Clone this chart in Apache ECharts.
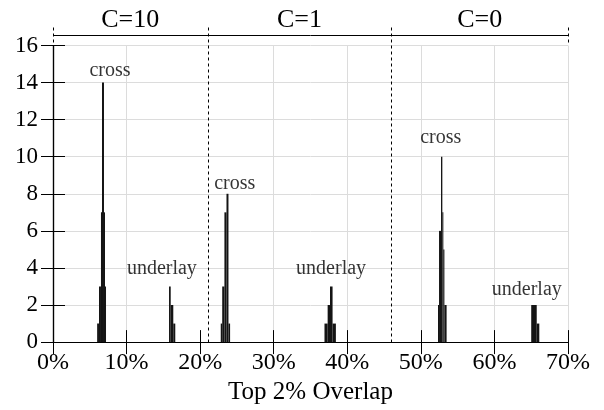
<!DOCTYPE html>
<html>
<head>
<meta charset="utf-8">
<script src="https://cdn.jsdelivr.net/npm/echarts@6/dist/echarts.min.js"></script>
<style>
  html, body { margin: 0; padding: 0; background: #fff; }
  #chart { width: 604px; height: 410px; }
</style>
</head>
<body>
<div id="chart"></div>
<script>
// Histogram bins: [bin start %, bin end %, count]
const crossC10    = [[6.00, 6.25, 1], [6.25, 6.52, 3], [6.52, 6.66, 7], [6.66, 6.93, 14], [6.93, 7.07, 7], [7.07, 7.20, 3]];
const underlayC10 = [[15.77, 16.00, 3], [16.00, 16.35, 2], [16.35, 16.62, 1]];
const crossC1     = [[22.80, 23.00, 1], [23.00, 23.30, 3], [23.30, 23.58, 7], [23.58, 23.85, 8], [23.85, 24.07, 1]];
const underlayC1  = [[36.90, 37.33, 1], [37.33, 37.65, 2], [37.65, 38.00, 3], [38.00, 38.45, 1]];
const crossC0     = [[52.33, 52.47, 2], [52.47, 52.74, 6], [52.74, 52.92, 10], [52.92, 53.05, 7], [53.05, 53.20, 5], [53.20, 53.50, 2]];
const underlayC0  = [[65.00, 65.75, 2], [65.75, 66.10, 1]];

// Group headings and the x values that bound each group
const groupNames  = ['C=10', 'C=1', 'C=0'];
const groupBounds = [0, 21, 46, 70];

// Annotation text and its anchor in data units (x %, count)
const noteText = ['cross', 'underlay', 'cross', 'underlay', 'cross', 'underlay'];
const noteX    = [7.75, 14.8, 24.7, 37.8, 52.7, 64.4];
const noteY    = [14.65, 3.95, 8.55, 3.95, 11.0, 2.85];

const xMin = 0, xMax = 70, xStep = 10;
const yMin = 0, yMax = 16, yStep = 2;
const xTitle = 'Top 2% Overlap';

const FONT = '"Liberation Serif", "DejaVu Serif", serif';
const INK = '#000';
const BAR = '#141414';

const allBins = [].concat(crossC10, underlayC10, crossC1, underlayC1, crossC0, underlayC0);

const chart = echarts.init(document.getElementById('chart'), null, { renderer: 'canvas' });

// light grid; the 20% line is left out where the first group boundary sits
const gridColors = [];
for (let v = xMin; v <= xMax; v += xStep) gridColors.push(v === 20 ? 'rgba(0,0,0,0)' : '#dcdcdc');
const xGrid = { show: true, lineStyle: { color: gridColors, width: 1 } };
const yGrid = { show: true, lineStyle: { color: '#dcdcdc', width: 1 } };
const tickIn = { show: true, inside: true, length: 12, lineStyle: { color: INK, width: 1 } };
const frameLine = { show: true, lineStyle: { color: INK, width: 1.2 } };

chart.setOption({
  animation: false,
  grid: { left: 53, right: 36, top: 45.5, bottom: 66, containLabel: false },
  xAxis: [
    {
      type: 'value', min: xMin, max: xMax, interval: xStep, position: 'bottom',
      name: xTitle, nameLocation: 'middle', nameGap: 34,
      nameTextStyle: { fontFamily: FONT, fontSize: 25, color: INK },
      axisLine: frameLine, axisTick: tickIn, splitLine: xGrid,
      axisLabel: { formatter: '{value}%', fontFamily: FONT, fontSize: 24, color: INK, margin: 9 }
    },
    {
      type: 'value', min: xMin, max: xMax, interval: xStep, position: 'top',
      axisLine: frameLine, axisTick: tickIn, splitLine: { show: false }, axisLabel: { show: false }
    }
  ],
  yAxis: [
    {
      type: 'value', min: yMin, max: yMax, interval: yStep, position: 'left',
      axisLine: frameLine, axisTick: tickIn, splitLine: yGrid,
      axisLabel: { fontFamily: FONT, fontSize: 23, color: INK, margin: 15 }
    },
    {
      type: 'value', min: yMin, max: yMax, interval: yStep, position: 'right',
      axisLine: frameLine, axisTick: tickIn, splitLine: { show: false }, axisLabel: { show: false }
    }
  ],
  series: [
    {
      type: 'custom',
      data: allBins,
      encode: { x: [0, 1], y: 2 },
      renderItem: function (params, api) {
        const base = api.coord([api.value(0), 0]);
        const top = api.coord([api.value(1), api.value(2)]);
        return {
          type: 'rect',
          shape: { x: base[0], y: top[1], width: Math.max(top[0] - base[0], 1), height: base[1] - top[1] },
          style: { fill: BAR }
        };
      },
      z: 3
    },
    {
      type: 'scatter',
      symbolSize: 0,
      data: noteText.map((t, i) => ({ name: t, value: [noteX[i], noteY[i]] })),
      label: {
        show: true, position: 'inside', formatter: '{b}',
        fontFamily: FONT, fontSize: 20, color: INK, textBorderWidth: 0
      },
      z: 4
    }
  ]
});

// Group header band above the frame, with dashed separators running down through the plot
function drawHeader() {
  const topPx = chart.convertToPixel({ yAxisIndex: 0 }, yMax);
  const botPx = chart.convertToPixel({ yAxisIndex: 0 }, yMin);
  const xs = groupBounds.map(v => chart.convertToPixel({ xAxisIndex: 0 }, v));
  const lineY = topPx - 10;
  const dashTop = topPx - 18;
  const els = [];
  els.push({
    type: 'line', shape: { x1: xs[0], y1: lineY, x2: xs[xs.length - 1], y2: lineY },
    style: { stroke: INK, lineWidth: 1 }, silent: true
  });
  xs.forEach((x, i) => {
    const inner = i > 0 && i < xs.length - 1;
    els.push({
      type: 'line',
      shape: { x1: Math.round(x) + 0.5, y1: dashTop, x2: Math.round(x) + 0.5, y2: inner ? botPx : topPx },
      style: { stroke: INK, lineWidth: 1, lineDash: [3, 3] }, silent: true, z: 5
    });
  });
  groupNames.forEach((name, i) => {
    els.push({
      type: 'text',
      x: (xs[i] + xs[i + 1]) / 2, y: lineY - 15,
      style: { text: name, font: '26px ' + FONT, fill: INK, textAlign: 'center', textVerticalAlign: 'middle' },
      silent: true
    });
  });
  chart.setOption({ graphic: { elements: els } });
}
drawHeader();
</script>
</body>
</html>
